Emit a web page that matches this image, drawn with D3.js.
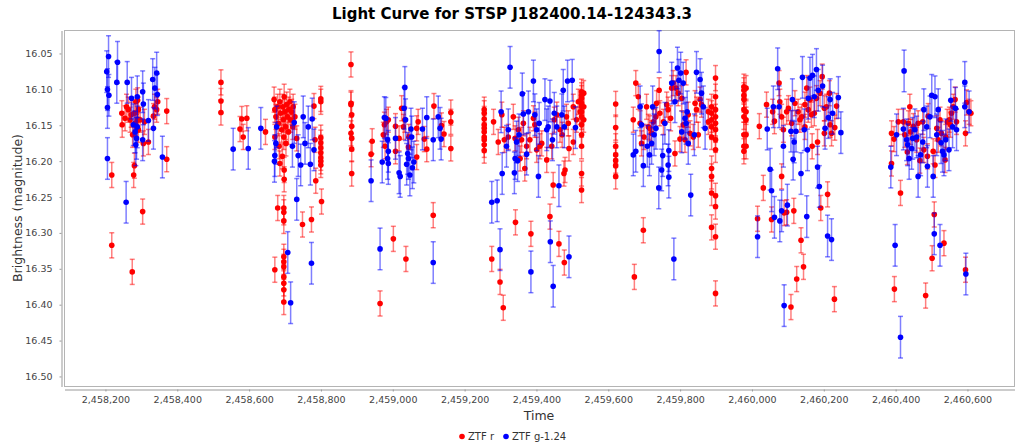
<!DOCTYPE html>
<html>
<head>
<meta charset="utf-8">
<script src="https://cdn.jsdelivr.net/npm/d3@7"></script>
<style>
  body { margin: 0; background: #fff; }
  svg text { font-family: "DejaVu Sans", sans-serif; }
</style>
</head>
<body>
<div id="chart"></div>
<script>
// [time (JD), magnitude] pairs, per observing season
const ztfR1 = [[2458219,16.220],[2458219,16.318],[2458247,16.134],[2458248,16.150],[2458256,16.141],[2458260,16.125],[2458265,16.129],[2458270,16.143],[2458273,16.136],[2458276,16.355],[2458277,16.164],[2458280,16.220],[2458282,16.207],[2458282,16.134],[2458286,16.118],[2458291,16.116],[2458293,16.129],[2458291,16.143],[2458293,16.157],[2458284,16.148],[2458288,16.153],[2458298,16.143],[2458305,16.271],[2458307,16.176],[2458310,16.146],[2458321,16.174],[2458335,16.138],[2458338,16.125],[2458344,16.129],[2458347,16.118],[2458372,16.131],[2458372,16.198]];
const ztfR2 = [[2458523,16.091],[2458523,16.117],[2458523,16.133],[2458576,16.156],[2458581,16.142],[2458585,16.167],[2458595,16.141],[2458647,16.160],
  [2458671,16.115],[2458673,16.129],[2458673,16.167],[2458676,16.139],[2458681,16.125],[2458683,16.148],[2458685,16.180],[2458687,16.118],[2458689,16.134],[2458692,16.157],[2458694,16.194],[2458695,16.125],[2458697,16.143],[2458698,16.167],[2458699,16.111],[2458701,16.132],[2458703,16.153],[2458704,16.176],[2458706,16.122],[2458708,16.139],[2458711,16.160],[2458712,16.129],[2458715,16.118],[2458717,16.143],[2458720,16.132],[2458723,16.153],[2458724,16.125],[2458729,16.139],[2458734,16.169],[2458687,16.204],
  [2458681,16.266],[2458673,16.352],[2458698,16.266],[2458698,16.272],[2458698,16.284],[2458698,16.334],[2458698,16.341],[2458698,16.348],[2458698,16.362],[2458698,16.371],[2458698,16.380],[2458698,16.397],[2458699,16.226],[2458699,16.213],
  [2458750,16.289],[2458775,16.282],[2458787,16.228],[2458803,16.257],[2458801,16.114],[2458801,16.118],[2458801,16.168],[2458801,16.175],[2458801,16.182],[2458801,16.189],[2458801,16.196],[2458801,16.201],[2458801,16.206],[2458782,16.124],[2458785,16.171]];
const ztfR3 = [[2458885,16.066],[2458885,16.120],[2458885,16.122],[2458887,16.136],[2458887,16.152],[2458885,16.162],[2458887,16.169],[2458887,16.184],[2458887,16.218],[2458941,16.191],[2458944,16.173],[2458966,16.399],[2458975,16.164],[2458978,16.150],[2458980,16.180],[2458984,16.146],[2458989,16.143],[2459003,16.309],[2459009,16.152],[2459009,16.187],[2459019,16.169],[2459026,16.127],[2459031,16.153],[2459035,16.143],[2459038,16.337],[2459045,16.181],[2459046,16.167],[2459068,16.195],[2459068,16.155],[2459072,16.146],[2459089,16.170],[2459096,16.184],[2459114,16.276],[2459116,16.124],[2459137,16.151],[2459144,16.163],[2459163,16.133],[2459163,16.146],[2459163,16.183]];
const ztfR4 = [[2459256,16.129],[2459256,16.134],[2459256,16.142],[2459256,16.150],[2459256,16.155],[2459256,16.160],[2459256,16.167],[2459256,16.171],[2459256,16.178],[2459256,16.186],
  [2459277,16.337],[2459282,16.146],[2459295,16.174],[2459300,16.369],[2459305,16.136],[2459309,16.405],[2459312,16.171],[2459323,16.167],[2459337,16.139],[2459342,16.169],[2459343,16.286],[2459351,16.157],[2459356,16.197],[2459360,16.171],[2459365,16.148],[2459369,16.211],[2459374,16.180],[2459383,16.171],[2459386,16.302],[2459393,16.141],[2459397,16.150],[2459402,16.185],[2459411,16.180],[2459416,16.176],[2459430,16.199],[2459439,16.278],[2459444,16.180],[2459448,16.234],[2459451,16.143],[2459458,16.136],[2459464,16.316],[2459467,16.157],[2459473,16.164],[2459478,16.218],[2459481,16.213],[2459479,16.342],[2459485,16.139],[2459490,16.148],[2459492,16.183],[2459504,16.125],[2459504,16.174],[2459513,16.143],[2459518,16.118],[2459523,16.132],
  [2459527,16.104],[2459527,16.109],[2459527,16.113],[2459527,16.120],[2459527,16.125],[2459527,16.132],[2459527,16.139],[2459527,16.150],[2459527,16.164],[2459527,16.180],[2459527,16.218],[2459527,16.241],[2459533,16.106],[2459533,16.125],[2459533,16.143]];
const ztfR5 = [[2459622,16.121],[2459622,16.154],[2459622,16.180],[2459622,16.192],[2459622,16.200],[2459622,16.207],[2459622,16.222],
  [2459671,16.143],[2459674,16.362],[2459678,16.092],[2459685,16.111],[2459690,16.148],[2459694,16.176],[2459699,16.297],[2459701,16.167],[2459708,16.125],[2459713,16.153],[2459717,16.155],[2459722,16.162],[2459727,16.146],[2459734,16.139],[2459736,16.120],[2459743,16.102],[2459745,16.134],[2459755,16.146],[2459764,16.122],[2459768,16.129],[2459775,16.141],[2459778,16.099],[2459782,16.092],[2459787,16.190],[2459790,16.099],[2459796,16.106],[2459801,16.170],[2459806,16.113],[2459810,16.150],[2459815,16.171],[2459818,16.077],[2459824,16.136],[2459829,16.162],[2459838,16.167],[2459843,16.120],[2459847,16.129],[2459852,16.164],[2459857,16.115],[2459861,16.122],[2459880,16.132],[2459880,16.146],
  [2459889,16.125],[2459889,16.134],[2459889,16.143],[2459889,16.153],[2459889,16.167],[2459889,16.211],[2459889,16.222],[2459889,16.245],[2459889,16.293],
  [2459900,16.085],[2459900,16.111],[2459900,16.129],[2459900,16.139],[2459900,16.148],[2459900,16.157],[2459900,16.171],[2459900,16.185],[2459900,16.249],[2459900,16.264],[2459900,16.306],[2459900,16.385]];
const ztfR6 = [[2459979,16.097],[2459979,16.102],[2459979,16.109],[2459979,16.115],[2459979,16.129],[2459979,16.139],[2459979,16.164],[2459979,16.180],[2459979,16.187],[2459985,16.099],[2459985,16.132],[2459985,16.143],[2459985,16.164],[2459985,16.180],
  [2460017,16.281],[2460022,16.152],[2460033,16.238],[2460042,16.122],[2460056,16.282],[2460059,16.132],[2460064,16.145],[2460077,16.092],[2460079,16.118],[2460084,16.222],[2460089,16.157],[2460091,16.273],[2460098,16.272],[2460103,16.127],[2460110,16.404],[2460118,16.270],[2460121,16.120],[2460126,16.365],[2460130,16.132],[2460138,16.311],[2460140,16.139],[2460145,16.348],[2460149,16.122],[2460154,16.099],[2460158,16.129],[2460163,16.115],[2460169,16.180],[2460175,16.134],[2460181,16.113],[2460184,16.174],[2460193,16.266],[2460191,16.106],[2460197,16.083],[2460203,16.127],[2460203,16.162],[2460212,16.247],[2460217,16.106],[2460219,16.150],[2460223,16.162],[2460231,16.393],[2460232,16.154],[2460237,16.124],
  [2460084,16.139],[2460112,16.148],[2460135,16.143],[2460167,16.136],[2460209,16.125],[2460098,16.132],[2460149,16.153]];
const ztfR7 = [[2460390,16.162],[2460390,16.204],[2460398,16.379],[2460397,16.170],[2460409,16.146],[2460415,16.245],[2460423,16.146],[2460427,16.164],[2460434,16.188],[2460437,16.148],[2460441,16.125],[2460443,16.160],[2460451,16.152],[2460460,16.171],[2460464,16.148],[2460469,16.200],[2460477,16.146],[2460480,16.185],[2460485,16.388],[2460490,16.194],[2460492,16.138],[2460503,16.336],[2460506,16.187],[2460509,16.275],[2460511,16.206],[2460516,16.155],[2460520,16.171],[2460525,16.143],[2460529,16.162],[2460536,16.315],[2460539,16.199],[2460541,16.167],[2460545,16.146],[2460551,16.143],[2460554,16.150],[2460557,16.134],[2460562,16.125],[2460567,16.115],[2460571,16.146],[2460596,16.352],[2460596,16.162],[2460599,16.119],[2460606,16.132],[2460611,16.134]];

const ztfG1 = [[2458210,16.055],[2458205,16.076],[2458211,16.109],[2458207,16.101],[2458207,16.126],[2458207,16.197],[2458233,16.091],[2458235,16.063],[2458262,16.091],[2458259,16.258],[2458274,16.113],[2458279,16.150],[2458284,16.160],[2458286,16.178],[2458288,16.169],[2458290,16.153],[2458290,16.111],[2458305,16.104],[2458307,16.121],[2458305,16.171],[2458321,16.144],[2458333,16.087],[2458335,16.155],[2458339,16.099],[2458344,16.078],[2458346,16.108],[2458360,16.195]];
const ztfG2 = [[2458557,16.184],[2458599,16.183],[2458634,16.155],[2458673,16.193],[2458672,16.201],[2458676,16.176],[2458678,16.153],[2458709,16.328],[2458717,16.398],[2458727,16.147],[2458722,16.180],[2458734,16.254],[2458738,16.193],[2458745,16.206],[2458752,16.139],[2458757,16.176],[2458766,16.153],[2458772,16.205],[2458775,16.343],[2458777,16.142],[2458782,16.185]];
const ztfG3 = [[2458941,16.228],[2458966,16.323],[2458972,16.202],[2458978,16.140],[2458982,16.141],[2458987,16.171],[2458987,16.197],[2458989,16.204],[2458989,16.187],[2459009,16.169],[2459019,16.217],[2459022,16.222],[2459035,16.098],[2459033,16.127],[2459037,16.143],[2459040,16.205],[2459043,16.190],[2459045,16.197],[2459049,16.220],[2459052,16.156],[2459054,16.167],[2459056,16.210],[2459060,16.202],[2459084,16.156],[2459096,16.140],[2459114,16.171],[2459114,16.342],[2459128,16.139],[2459133,16.155],[2459136,16.170]];
const ztfG4 = [[2459328,16.070],[2459277,16.258],[2459292,16.256],[2459300,16.324],[2459303,16.132],[2459306,16.218],[2459318,16.180],[2459323,16.157],[2459340,16.217],[2459342,16.197],[2459346,16.174],[2459349,16.200],[2459353,16.164],[2459362,16.107],[2459365,16.135],[2459374,16.191],[2459379,16.132],[2459386,16.355],[2459393,16.089],[2459397,16.136],[2459402,16.157],[2459407,16.222],[2459409,16.148],[2459425,16.115],[2459430,16.157],[2459434,16.153],[2459439,16.117],[2459440,16.313],[2459446,16.171],[2459448,16.375],[2459451,16.134],[2459458,16.153],[2459464,16.235],[2459472,16.136],[2459476,16.102],[2459479,16.153],[2459488,16.089],[2459492,16.334],[2459501,16.088],[2459510,16.154]];
const ztfG5 = [[2459743,16.048],[2459671,16.192],[2459678,16.187],[2459690,16.125],[2459694,16.150],[2459699,16.207],[2459710,16.180],[2459716,16.192],[2459722,16.176],[2459725,16.125],[2459729,16.164],[2459734,16.155],[2459742,16.238],[2459750,16.213],[2459753,16.193],[2459759,16.148],[2459768,16.206],[2459770,16.186],[2459770,16.223],[2459778,16.092],[2459784,16.337],[2459787,16.118],[2459794,16.071],[2459798,16.088],[2459803,16.078],[2459806,16.160],[2459810,16.092],[2459815,16.141],[2459818,16.148],[2459821,16.132],[2459824,16.176],[2459831,16.248],[2459841,16.164],[2459847,16.077],[2459857,16.087],[2459861,16.106],[2459866,16.125],[2459871,16.155]];
const ztfG6 = [[2460017,16.306],[2460044,16.156],[2460052,16.212],[2460056,16.242],[2460061,16.125],[2460064,16.279],[2460073,16.072],[2460077,16.125],[2460079,16.284],[2460084,16.270],[2460089,16.180],[2460091,16.402],[2460100,16.262],[2460110,16.159],[2460114,16.115],[2460116,16.198],[2460119,16.174],[2460124,16.159],[2460138,16.218],[2460142,16.084],[2460147,16.157],[2460154,16.278],[2460156,16.185],[2460158,16.113],[2460163,16.085],[2460170,16.081],[2460175,16.111],[2460181,16.073],[2460184,16.209],[2460186,16.102],[2460189,16.236],[2460198,16.096],[2460205,16.155],[2460212,16.305],[2460214,16.140],[2460219,16.115],[2460223,16.310],[2460226,16.134],[2460242,16.112],[2460249,16.161]];
const ztfG7 = [[2460425,16.075],[2460388,16.209],[2460400,16.318],[2460404,16.164],[2460415,16.446],[2460423,16.156],[2460432,16.171],[2460435,16.178],[2460439,16.197],[2460446,16.183],[2460449,16.169],[2460455,16.157],[2460460,16.167],[2460464,16.222],[2460471,16.192],[2460477,16.174],[2460480,16.129],[2460488,16.153],[2460490,16.208],[2460497,16.139],[2460502,16.109],[2460506,16.222],[2460509,16.302],[2460511,16.111],[2460516,16.164],[2460520,16.129],[2460525,16.318],[2460528,16.175],[2460532,16.187],[2460536,16.192],[2460541,16.171],[2460550,16.185],[2460555,16.116],[2460560,16.153],[2460568,16.127],[2460571,16.157],[2460594,16.091],[2460594,16.125],[2460597,16.358],[2460606,16.132]];

const seriesNames = ['ZTF r', 'ZTF g-1.24'];
const seriesColors = ['#ff0000', '#0000ff'];
const seriesErrors = [0.0175, 0.029];
const xTicks = [2458200, 2458400, 2458600, 2458800, 2459000, 2459200, 2459400, 2459600, 2459800, 2460000, 2460200, 2460400, 2460600];
const yTicks = [16.05, 16.10, 16.15, 16.20, 16.25, 16.30, 16.35, 16.40, 16.45, 16.50];

const series = [
  [].concat(ztfR1, ztfR2, ztfR3, ztfR4, ztfR5, ztfR6, ztfR7),
  [].concat(ztfG1, ztfG2, ztfG3, ztfG4, ztfG5, ztfG6, ztfG7)
];

const width = 1024, height = 448;
const plot = { left: 64, right: 1014, top: 30, bottom: 386 };

const svg = d3.select('#chart').append('svg')
  .attr('width', width)
  .attr('height', height);

const x = d3.scaleLinear().domain([2458086, 2460731]).range([plot.left, plot.right]);
const y = d3.scaleLinear().domain([16.018, 16.514]).range([plot.top, plot.bottom]);

// plot outline
svg.append('rect')
  .attr('x', plot.left + 0.5).attr('y', plot.top + 0.5)
  .attr('width', plot.right - plot.left).attr('height', plot.bottom - plot.top)
  .attr('fill', '#fff').attr('stroke', '#b4b4b4');

// axes, drawn a few px away from the plot like JFreeChart
const xAxis = svg.append('g')
  .attr('transform', `translate(0.5,${plot.bottom + 3.5})`)
  .call(d3.axisBottom(x).tickValues(xTicks).tickFormat(d3.format(','))
    .tickSize(2).tickSizeOuter(0).tickPadding(5));
const yAxis = svg.append('g')
  .attr('transform', `translate(${plot.left - 2.5},0.5)`)
  .call(d3.axisLeft(y).tickValues(yTicks).tickFormat(d3.format('.2f'))
    .tickSize(2).tickSizeOuter(0).tickPadding(7));

[xAxis, yAxis].forEach(ax => {
  ax.select('.domain').attr('stroke', '#999');
  ax.selectAll('.tick line').attr('stroke', '#999');
  ax.selectAll('.tick text').attr('fill', '#444').attr('font-size', 9.5)
    .attr('font-family', '"Liberation Sans", Arial, sans-serif');
});

// error bars and points
const marks = svg.append('g');
series.forEach((data, i) => {
  const color = seriesColors[i];
  const err = seriesErrors[i];
  const g = marks.append('g');
  const bars = g.selectAll('g.bar').data(data).enter().append('g')
    .attr('stroke', color).attr('stroke-opacity', 0.5).attr('stroke-width', 1.5);
  bars.append('line')
    .attr('x1', d => x(d[0])).attr('x2', d => x(d[0]))
    .attr('y1', d => y(d[1] - err)).attr('y2', d => y(d[1] + err));
  bars.append('line')
    .attr('x1', d => x(d[0]) - 2.5).attr('x2', d => x(d[0]) + 2.5)
    .attr('y1', d => y(d[1] - err)).attr('y2', d => y(d[1] - err));
  bars.append('line')
    .attr('x1', d => x(d[0]) - 2.5).attr('x2', d => x(d[0]) + 2.5)
    .attr('y1', d => y(d[1] + err)).attr('y2', d => y(d[1] + err));
  g.selectAll('circle').data(data).enter().append('circle')
    .attr('cx', d => x(d[0])).attr('cy', d => y(d[1]))
    .attr('r', 2.8).attr('fill', color);
});

// title and axis labels
svg.append('text')
  .attr('x', width / 2).attr('y', 19)
  .attr('text-anchor', 'middle')
  .attr('font-size', 15).attr('font-weight', 'bold').attr('fill', '#000')
  .text('Light Curve for STSP J182400.14-124343.3');

svg.append('text')
  .attr('x', (plot.left + plot.right) / 2).attr('y', 420)
  .attr('text-anchor', 'middle')
  .attr('font-size', 12.5).attr('fill', '#333')
  .text('Time');

svg.append('text')
  .attr('transform', `translate(22,${(plot.top + plot.bottom) / 2}) rotate(-90)`)
  .attr('text-anchor', 'middle')
  .attr('font-size', 12.5).attr('fill', '#333')
  .text('Brightness (magnitude)');

// legend
const legend = svg.append('g').attr('transform', 'translate(462,440)');
let lx = 0;
seriesNames.forEach((name, i) => {
  const item = legend.append('g').attr('transform', `translate(${lx},0)`);
  item.append('circle').attr('cx', 0).attr('cy', -3.5).attr('r', 2.8).attr('fill', seriesColors[i]);
  const t = item.append('text').attr('x', 6).attr('y', 0)
    .attr('font-size', 10).attr('fill', '#333').text(name);
  lx += 6 + t.node().getComputedTextLength() + 12;
});
</script>
</body>
</html>
